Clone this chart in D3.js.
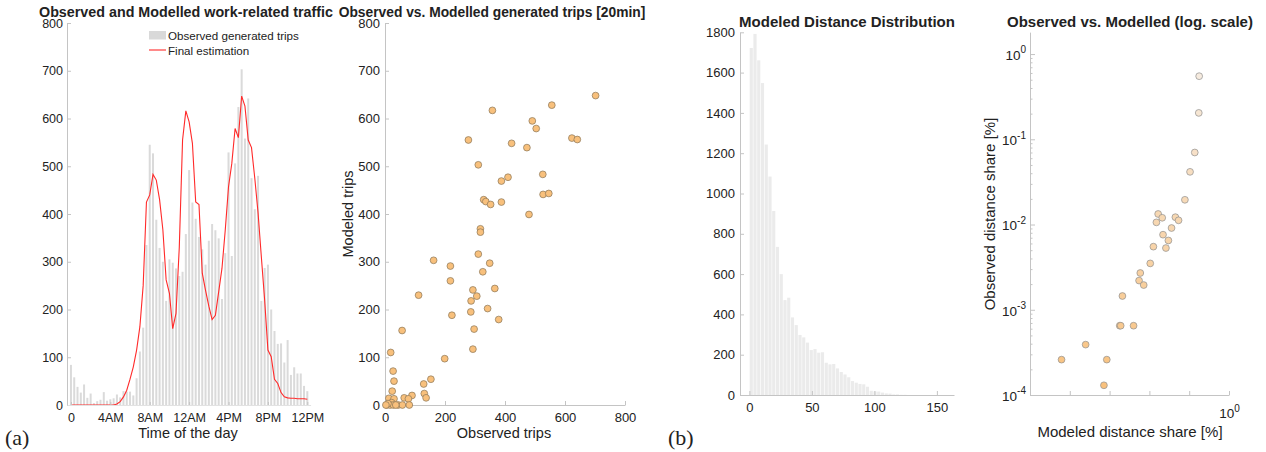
<!DOCTYPE html>
<html>
<head>
<meta charset="utf-8">
<script src="https://cdn.jsdelivr.net/npm/d3@7"></script>
<style>
body { margin: 0; background: #fff; }
svg text { font-family: "Liberation Sans", Arial, Helvetica, sans-serif; fill: #222; }
</style>
</head>
<body>
<svg id="chart" width="1266" height="452"></svg>
<script>
// ---- panel (a) left: 20-min bins over the day
const timeTickBins = [0, 12, 24, 36, 48, 60, 72];
const timeTickLabels = ["0", "4AM", "8AM", "12AM", "4PM", "8PM", "12PM"];
const observedTrips = [84, 58, 38, 26, 43, 15, 24, 4, 8, 11, 27, 9, 12, 14, 22, 16, 29, 28, 28, 20,
	56, 112, 162, 335, 545, 527, 388, 329, 300, 218,
	305, 298, 286, 270, 279, 358, 492, 424, 390, 352,
	326, 294, 344, 379, 366, 349, 222, 318, 529, 312,
	506, 624, 703, 558, 642, 475, 410, 480, 218, 287,
	294, 200, 155, 128, 129, 89, 136, 63, 79, 66,
	66, 40, 29];
const finalEstimation = [0, 0, 0, 0, 0, 0, 0, 0, 0, 0, 0, 0, 0, 0, 2, 7, 17, 31, 54, 80,
	115, 164, 250, 425, 440, 483, 471, 430, 367, 262,
	234, 160, 192, 330, 555, 616, 593, 548, 425, 420,
	276, 240, 207, 179, 188, 237, 286, 366, 457, 506,
	579, 560, 647, 626, 555, 539, 475, 402, 310, 220,
	115, 101, 54, 45, 26, 17, 15, 14, 14, 13,
	13, 13, 12];

// ---- panel (a) right: observed vs modelled trips
const scatterObserved = [702, 358, 556, 491, 504, 278, 422, 473, 623, 641, 311, 526, 410, 388, 329, 336, 352, 388, 527, 546, 480,
	318, 318, 311, 349, 326, 218, 162, 218, 112, 293, 306, 287, 366, 286, 342, 223, 379, 297, 57, 293, 19, 199,
	27, 30, 153, 129, 24, 131, 137, 90, 64, 78, 13, 30, 22, 6, 17, 28, 44, 58, 81, 36, 10, 3];
const scatterModelled = [648, 617, 628, 595, 579, 555, 548, 539, 559, 556, 503, 483, 477, 469, 430, 426, 420, 425, 441, 443, 399,
	369, 362, 316, 297, 279, 291, 303, 260, 230, 241, 228, 218, 244, 195, 202, 188, 179, 159, 156, 117, 110, 97,
	71, 50, 54, 44, 29, 24, 15, 20, 15, 13, 14, 13, 5, 0, 0, 0, 0, 0, 0, 0, 3, 0];

// ---- panel (b) left: distance histogram, 3 km bins
const distBinWidth = 3;
const distCounts = [1722, 1792, 1661, 1548, 1243, 1084, 913, 735, 600, 471, 483, 385, 347, 298, 286, 260, 223, 228, 210, 212,
	160, 152, 154, 132, 114, 102, 88, 69, 61, 55, 53, 41, 21, 18, 17, 12, 8, 7, 3, 3, 1, 1];
const distTicks = [0, 50, 100, 150];

// ---- panel (b) right: log-log shares
const logModeled = [6.2e-5, 2.5e-4, 7.2e-4, 8.5e-4, 1.8e-3, 1.9e-3, 4.0e-3, 2.1e-3, 5.5e-3, 5.9e-3, 7.2e-3, 1.05e-2, 1.26e-2,
	2.6e-2, 3.0e-2, 2.2e-2, 3.6e-2, 1.5e-2, 1.66e-2, 2.1e-2, 4.5e-2, 5.4e-2, 7.8e-2, 0.105, 0.138, 0.174, 0.178];
const logObserved = [2.6e-4, 3.9e-4, 1.3e-4, 2.6e-4, 6.5e-4, 6.5e-4, 6.5e-4, 1.45e-3, 2.2e-3, 2.7e-3, 1.95e-3, 3.5e-3, 5.5e-3,
	5.3e-3, 6.5e-3, 7.6e-3, 9.1e-3, 1.06e-2, 1.33e-2, 1.2e-2, 1.22e-2, 1.12e-2, 1.95e-2, 4.15e-2, 7.0e-2, 0.204, 0.55];

const svg = d3.select("#chart");
const axisGrey = "#c4c4c4";

function styleAxis(g, size) {
	g.select(".domain").attr("stroke", axisGrey);
	g.selectAll(".tick line").attr("stroke", axisGrey);
	g.selectAll(".tick text").attr("font-size", size).attr("fill", "#222").style("font-family", "'Liberation Sans', Arial, sans-serif");
}

function title(x, y, txt, size) {
	svg.append("text").attr("x", x).attr("y", y).attr("text-anchor", "middle")
		.attr("font-size", size).attr("font-weight", "bold").attr("fill", "#111").text(txt);
}

function label(x, y, txt, size, rotate) {
	const t = svg.append("text").attr("text-anchor", "middle").attr("font-size", size);
	if (rotate) t.attr("transform", "translate(" + x + "," + y + ") rotate(-90)");
	else t.attr("x", x).attr("y", y);
	t.text(txt);
}

// ================= Panel 1 =================
{
	const x = d3.scaleLinear().domain([-1.2, 73]).range([67, 310.6]);
	const y = d3.scaleLinear().domain([0, 800]).range([405, 23]);
	const g = svg.append("g");

	g.selectAll("rect.obs").data(observedTrips).enter().append("rect")
		.attr("class", "obs")
		.attr("x", (d, i) => x(i) - 1)
		.attr("width", 2)
		.attr("y", d => y(d))
		.attr("height", d => y(0) - y(d))
		.attr("fill", "#dadada");

	const line = d3.line().x((d, i) => x(i)).y(d => y(d));
	g.append("path").datum(finalEstimation).attr("d", line)
		.attr("fill", "none").attr("stroke", "#ff2a2a").attr("stroke-width", 1.1);

	const ax = g.append("g").attr("transform", "translate(67,0)")
		.call(d3.axisLeft(y).tickValues(d3.range(0, 801, 100)).tickSizeInner(-4).tickSizeOuter(0).tickPadding(4));
	styleAxis(ax, 12.5);
	const bx = g.append("g").attr("transform", "translate(0,405)")
		.call(d3.axisBottom(x).tickValues(timeTickBins).tickFormat((d, i) => timeTickLabels[i]).tickSizeInner(-3).tickSizeOuter(0).tickPadding(8));
	styleAxis(bx, 12.5);
	bx.select(".domain").attr("stroke", "#e2e2e2");

	// legend
	g.append("rect").attr("x", 149).attr("y", 31).attr("width", 17).attr("height", 8.5).attr("fill", "#d9d9d9");
	g.append("text").attr("x", 168).attr("y", 39.5).attr("font-size", 11.6).text("Observed generated trips");
	g.append("line").attr("x1", 149).attr("x2", 166).attr("y1", 50).attr("y2", 50).attr("stroke", "#ff2a2a").attr("stroke-width", 1.1);
	g.append("text").attr("x", 168).attr("y", 54.5).attr("font-size", 11.6).text("Final estimation");

	title(186, 17, "Observed and Modelled work-related traffic", 14.3);
	label(188, 438, "Time of the day", 14.5);
}

// ================= Panel 2 =================
{
	const x = d3.scaleLinear().domain([0, 800]).range([385, 625]);
	const y = d3.scaleLinear().domain([0, 800]).range([405, 23]);
	const g = svg.append("g");

	const ax = g.append("g").attr("transform", "translate(385,0)")
		.call(d3.axisLeft(y).tickValues(d3.range(0, 801, 100)).tickSizeInner(-4).tickSizeOuter(0).tickPadding(5));
	styleAxis(ax, 13);
	const bx = g.append("g").attr("transform", "translate(0,405)")
		.call(d3.axisBottom(x).tickValues(d3.range(0, 801, 200)).tickSizeInner(-4).tickSizeOuter(0).tickPadding(7.5));
	styleAxis(bx, 13);

	g.selectAll("circle").data(scatterObserved).enter().append("circle")
		.attr("cx", d => x(d))
		.attr("cy", (d, i) => y(scatterModelled[i]))
		.attr("r", 3.4)
		.attr("fill", "#f8c07c")
		.attr("stroke", "#8a7658")
		.attr("stroke-width", 0.7);

	title(492, 17, "Observed vs. Modelled generated trips [20min]", 13.8);
	label(504, 438, "Observed trips", 14.5);
	label(353, 214, "Modeled trips", 14.5, true);
}

// ================= Panel 3 =================
{
	const x = d3.scaleLinear().domain([-7.5, 163.7]).range([740, 954]);
	const y = d3.scaleLinear().domain([0, 1800]).range([395, 32.3]);
	const g = svg.append("g");

	g.selectAll("rect").data(distCounts).enter().append("rect")
		.attr("x", (d, i) => x(i * distBinWidth) + 0.3)
		.attr("width", x(distBinWidth) - x(0) - 0.6)
		.attr("y", d => y(d))
		.attr("height", d => y(0) - y(d))
		.attr("fill", "#ebebeb");

	const ax = g.append("g").attr("transform", "translate(740,0)")
		.call(d3.axisLeft(y).tickValues(d3.range(0, 1801, 200)).tickFormat(d3.format("d")).tickSizeInner(-4).tickSizeOuter(0).tickPadding(5));
	styleAxis(ax, 13);
	const bx = g.append("g").attr("transform", "translate(0,395)")
		.call(d3.axisBottom(x).tickValues(distTicks).tickSizeInner(-4).tickSizeOuter(0).tickPadding(8));
	styleAxis(bx, 13);

	title(847, 27, "Modeled Distance Distribution", 15);
}

// ================= Panel 4 =================
{
	const x = d3.scaleLog().domain([1e-5, 1]).range([1030, 1229]);
	const y = d3.scaleLog().domain([1e-4, 1.8]).range([395, 32.3]);
	const g = svg.append("g");

	const majors = [1e-4, 1e-3, 1e-2, 1e-1, 1];
	const minors = [];
	majors.forEach(b => d3.range(2, 10).forEach(k => { if (b * k <= 1.8) minors.push(b * k); }));

	const ayMinor = g.append("g").attr("transform", "translate(1030,0)")
		.call(d3.axisLeft(y).tickValues(minors).tickFormat("").tickSizeInner(-2.5).tickSizeOuter(0));
	styleAxis(ayMinor, 13);
	const ay = g.append("g").attr("transform", "translate(1030,0)")
		.call(d3.axisLeft(y).tickValues(majors).tickFormat("").tickSizeInner(-5).tickSizeOuter(0));
	styleAxis(ay, 13);
	ay.selectAll(".tick").append("text")
		.attr("x", -4).attr("dy", "0.4em").attr("text-anchor", "end").attr("font-size", 13.5)
		.each(function(d) {
			const e = Math.round(Math.log10(d));
			const t = d3.select(this);
			t.append("tspan").text("10");
			t.append("tspan").attr("dy", -6.5).attr("font-size", 10).text(e);
		});

	const ax = g.append("g").attr("transform", "translate(0,395)")
		.call(d3.axisBottom(x).tickValues([1e-5, 1e-4, 1e-3, 1e-2, 1e-1, 1]).tickFormat("").tickSizeInner(-4).tickSizeOuter(0));
	styleAxis(ax, 13);
	ax.selectAll(".tick").filter(d => d === 1).append("text")
		.attr("y", 23).attr("text-anchor", "middle").attr("font-size", 13.5)
		.each(function() {
			const t = d3.select(this);
			t.append("tspan").text("10");
			t.append("tspan").attr("dy", -6.5).attr("font-size", 10).text("0");
		});

	const fill = d3.scaleLog().domain([1e-4, 0.6]).range(["#f9c07a", "#f6ebe0"]).interpolate(d3.interpolateRgb);
	g.selectAll("circle").data(logModeled).enter().append("circle")
		.attr("cx", d => x(d))
		.attr("cy", (d, i) => y(logObserved[i]))
		.attr("r", 3.4)
		.attr("fill", (d, i) => fill(logObserved[i]))
		.attr("stroke", "#8f8f8f")
		.attr("stroke-width", 0.7);

	title(1130, 27, "Observed vs. Modelled (log. scale)", 15);
	label(1130, 437, "Modeled distance share [%]", 15);
	label(995, 214, "Observed distance share [%]", 15, true);
}

// panel letters
svg.append("text").attr("x", 5).attr("y", 445).attr("font-size", 22)
	.style("font-family", "'Liberation Serif', 'Times New Roman', serif").attr("fill", "#000").text("(a)");
svg.append("text").attr("x", 668).attr("y", 445).attr("font-size", 22)
	.style("font-family", "'Liberation Serif', 'Times New Roman', serif").attr("fill", "#000").text("(b)");
</script>
</body>
</html>
